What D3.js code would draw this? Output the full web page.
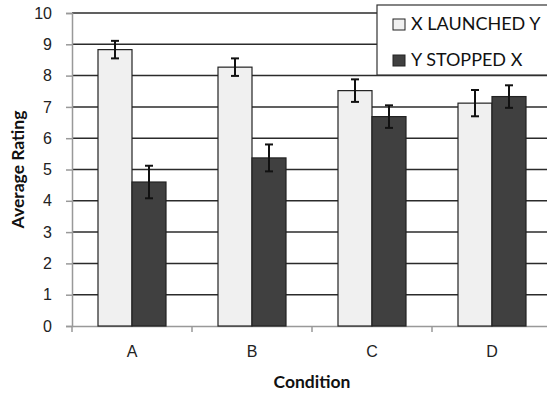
<!DOCTYPE html>
<html>
<head>
<meta charset="utf-8">
<script src="https://cdn.jsdelivr.net/npm/d3@7"></script>
<style>
  body { margin: 0; background: #fff; }
  svg { display: block; font-family: Lato, "Open Sans", sans-serif; }
</style>
</head>
<body>
<div id="chart"></div>
<script>
// Data
const conditions = ['A', 'B', 'C', 'D'];
const seriesNames = ['X LAUNCHED Y', 'Y STOPPED X'];
const launchedMeans = [8.83, 8.27, 7.52, 7.12];
const launchedErr = [0.28, 0.28, 0.36, 0.42];
const stoppedMeans = [4.6, 5.37, 6.69, 7.33];
const stoppedErr = [0.52, 0.43, 0.36, 0.36];
const yTicks = [0, 1, 2, 3, 4, 5, 6, 7, 8, 9, 10];

const colours = ['#f0f0f0', '#404040'];

const width = 547;
const height = 393;
const margin = { top: 13, left: 72, bottom: 67 };
const plotW = 480;   // runs off the right edge like the original
const plotH = height - margin.top - margin.bottom;

const svg = d3.select('#chart')
  .append('svg')
  .attr('width', width)
  .attr('height', height);

const g = svg.append('g')
  .attr('transform', `translate(${margin.left},${margin.top})`);

const x = d3.scaleBand()
  .domain(conditions)
  .range([0, plotW]);

const xInner = d3.scaleBand()
  .domain(seriesNames)
  .range([0, 68]);

const y = d3.scaleLinear()
  .domain([0, 10])
  .range([plotH, 0]);

// gridlines
g.selectAll('.grid')
  .data(yTicks.filter(d => d > 0))
  .enter()
  .append('line')
  .attr('x1', 0)
  .attr('x2', plotW)
  .attr('y1', d => y(d))
  .attr('y2', d => y(d))
  .style('stroke', '#2b2b2b')
  .style('stroke-width', 1.5);

// y axis
const yAxis = g.append('g')
  .call(d3.axisLeft(y).tickValues(yTicks).tickSize(6).tickPadding(14));
yAxis.select('.domain').style('stroke', '#999').style('stroke-width', 1.5);
yAxis.selectAll('.tick line').style('stroke', '#999').style('stroke-width', 1.5);
yAxis.selectAll('text')
  .style('font-size', '16px')
  .style('fill', '#222');

// x axis
const xAxis = g.append('g')
  .attr('transform', `translate(0,${plotH})`)
  .call(d3.axisBottom(x).tickSize(0).tickPadding(20));
xAxis.select('.domain').style('stroke', '#999').style('stroke-width', 1.5);
xAxis.selectAll('text')
  .style('font-size', '16px')
  .style('fill', '#222');

// tick marks between categories
g.selectAll('.xtick')
  .data(conditions)
  .enter()
  .append('line')
  .attr('x1', d => x(d))
  .attr('x2', d => x(d))
  .attr('y1', plotH)
  .attr('y2', plotH + 6)
  .style('stroke', '#999')
  .style('stroke-width', 1.5);

// bars
const data = conditions.flatMap((c, i) => [
  { cond: c, series: seriesNames[0], value: launchedMeans[i], err: launchedErr[i], colour: colours[0] },
  { cond: c, series: seriesNames[1], value: stoppedMeans[i], err: stoppedErr[i], colour: colours[1] }
]);

const groupOffset = (x.bandwidth() - 68) / 2;

g.selectAll('.bar')
  .data(data)
  .enter()
  .append('rect')
  .attr('x', d => x(d.cond) + groupOffset + xInner(d.series))
  .attr('y', d => y(d.value))
  .attr('width', xInner.bandwidth())
  .attr('height', d => plotH - y(d.value))
  .style('fill', d => d.colour)
  .style('stroke', '#222')
  .style('stroke-width', 1.2);

// error bars
const errG = g.selectAll('.err')
  .data(data)
  .enter()
  .append('g')
  .attr('transform', d => `translate(${x(d.cond) + groupOffset + xInner(d.series) + xInner.bandwidth() / 2},0)`)
  .style('stroke', '#111')
  .style('stroke-width', 2);

errG.append('line')
  .attr('y1', d => y(d.value + d.err))
  .attr('y2', d => y(d.value - d.err));
errG.append('line')
  .attr('x1', -4).attr('x2', 4)
  .attr('y1', d => y(d.value + d.err))
  .attr('y2', d => y(d.value + d.err));
errG.append('line')
  .attr('x1', -4).attr('x2', 4)
  .attr('y1', d => y(d.value - d.err))
  .attr('y2', d => y(d.value - d.err));

// legend
const legend = svg.append('g').attr('transform', 'translate(377,5)');
legend.append('rect')
  .attr('width', 180)
  .attr('height', 70)
  .style('fill', '#fff')
  .style('stroke', '#333')
  .style('stroke-width', 1.2);

const item = legend.selectAll('.item')
  .data(seriesNames)
  .enter()
  .append('g')
  .attr('transform', (d, i) => `translate(16,${14 + i * 36})`);

item.append('rect')
  .attr('width', 12)
  .attr('height', 11)
  .style('fill', (d, i) => colours[i])
  .style('stroke', '#222')
  .style('stroke-width', 1);

item.append('text')
  .attr('x', 18)
  .attr('y', 11)
  .style('font-size', '18px')
  .style('fill', '#111')
  .text(d => d);

// axis titles
svg.append('text')
  .attr('transform', `translate(24,${margin.top + plotH / 2}) rotate(-90)`)
  .attr('text-anchor', 'middle')
  .style('font-size', '17.5px')
  .style('font-weight', 'bold')
  .style('fill', '#111')
  .text('Average Rating');

svg.append('text')
  .attr('x', margin.left + plotW / 2)
  .attr('y', 388)
  .attr('text-anchor', 'middle')
  .style('font-size', '17.5px')
  .style('font-weight', 'bold')
  .style('fill', '#111')
  .text('Condition');
</script>
</body>
</html>
